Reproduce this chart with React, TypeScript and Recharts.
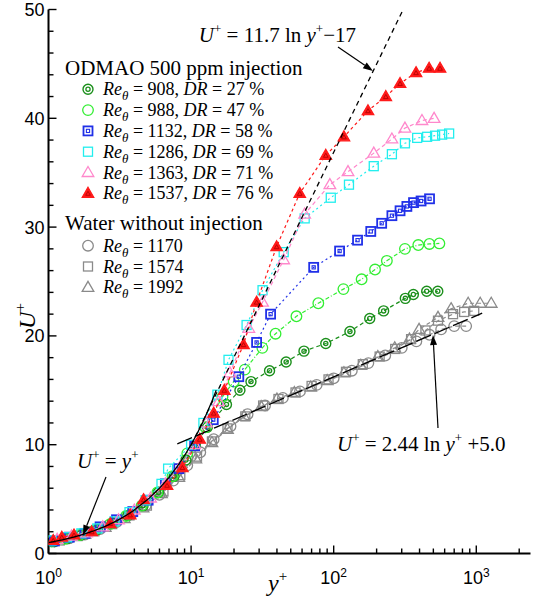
import React from 'react';
import { ComposedChart, Scatter, XAxis, YAxis } from 'recharts';

const W = 533;
const H = 596;
const SERIF = '"Liberation Serif", "Times New Roman", serif';
const SANS = '"Liberation Sans", Arial, sans-serif';

type P = [number, number];

// ODMAO 500 ppm injection  [y+, U+]
const re908: P[] = [[1.1,1.1],[1.35,1.35],[1.7,1.7],[2.2,2.2],[2.8,2.8],[3.6,3.5],[4.6,4.4],[5.9,5.6],[7.6,7.1],[9.2,8.6],[10.7,10.0],[13.0,11.6],[17.7,13.7],[22.0,15.0],[26.3,15.8],[35.5,16.8],[46.4,17.6],[61.9,18.6],[88,19.3],[130,20.4],[179,21.6],[224,22.3],[318,23.45],[362,23.8],[449,24.1],[537,24.1]];
const re988: P[] = [[1.05,1.1],[1.3,1.35],[1.65,1.7],[2.1,2.15],[2.7,2.7],[3.5,3.45],[4.5,4.4],[5.8,5.6],[7.4,7.1],[9.4,9.2],[12.6,11.6],[16.6,14.4],[19.9,15.8],[23.8,16.9],[31.6,18.9],[39.1,20.2],[54.8,21.8],[78,23.0],[117,24.3],[157,25.2],[195,26.1],[236,26.9],[316,28.0],[392,28.35],[469,28.45],[551,28.5]];
const re1132: P[] = [[1.1,1.15],[1.4,1.5],[1.8,1.85],[2.3,2.45],[3.0,3.1],[3.9,3.85],[5.0,4.9],[6.6,6.4],[8.2,7.8],[10.6,9.9],[14.3,12.3],[21.6,16.25],[28.8,19.4],[36.1,22.0],[72.4,26.3],[110,27.8],[147,28.8],[182,29.6],[217,30.35],[256,31.05],[292,31.5],[326,31.9],[363,32.25],[410,32.4],[470,32.6]];
const re1286: P[] = [[1.05,1.2],[1.35,1.5],[1.7,1.85],[2.2,2.3],[2.9,2.95],[3.7,3.8],[4.8,4.9],[6.2,6.4],[6.9,7.8],[10.0,10.0],[12.2,12.0],[15.3,14.6],[18.3,17.8],[24.5,21.0],[31.7,24.2],[44.6,27.7],[62.6,30.8],[95.4,32.7],[128,33.9],[191,35.6],[256,36.7],[316,37.7],[385,38.2],[452,38.3],[514,38.4],[576,38.5],[645,38.6]];
const re1363: P[] = [[1.15,1.3],[1.45,1.6],[1.85,1.9],[2.4,2.45],[3.1,3.1],[4.0,4.0],[5.2,5.1],[6.6,6.4],[8.4,8.0],[10.6,10.0],[12.8,12.0],[15.6,13.95],[18.7,16.6],[25.4,20.7],[31.7,23.1],[44.6,27.0],[62.6,31.2],[94,33.9],[126,35.1],[191,36.8],[256,38.1],[316,39.1],[416,39.8],[506,40.0]];
const re1537: P[] = [[1.08,1.2],[1.24,1.5],[1.51,1.7],[2.01,2.0],[2.71,2.75],[3.74,3.55],[4.64,4.95],[6.78,6.27],[8.69,7.9],[11.5,10.5],[14.4,12.9],[17.1,15.0],[23.3,19.2],[28.8,23.1],[39.8,28.2],[57.8,33.1],[88,36.6],[118,38.3],[174,40.7],[232,42.0],[292,43.2],[378,44.2],[467,44.6],[557,44.6]];

// Water without injection
const w1170: P[] = [[1.1,1.1],[1.4,1.4],[1.8,1.75],[2.3,2.25],[3.0,2.9],[3.8,3.6],[4.8,4.4],[6.0,5.4],[7.5,6.7],[9.4,8.1],[11.6,9.3],[14.4,10.5],[18.9,11.7],[24.9,12.8],[33,13.6],[44,14.3],[58,14.9],[76,15.5],[100,16.1],[134,16.8],[175,17.5],[230,18.2],[300,18.9],[380,19.5],[470,20.1],[567,20.6],[700,20.9],[849,20.9]];
const w1574: P[] = [[1.2,1.2],[1.6,1.6],[2.1,2.05],[2.8,2.7],[3.7,3.5],[4.9,4.4],[6.4,5.7],[8.4,7.2],[11,8.9],[14,10.3],[18,11.5],[24,12.6],[32,13.6],[41,14.2],[54,14.8],[70,15.4],[92,16.0],[122,16.7],[160,17.4],[210,18.1],[270,18.8],[349,19.7],[440,20.5],[539,21.4],[687,22.0],[822,22.2],[967,22.3]];
const w1992: P[] = [[1.3,1.3],[1.8,1.75],[2.5,2.4],[3.4,3.2],[4.6,4.2],[6.2,5.5],[8.2,7.0],[10.8,8.7],[14,10.2],[18,11.4],[23.5,12.6],[31,13.5],[40,14.2],[53,14.8],[69,15.3],[90,15.9],[118,16.6],[155,17.3],[204,18.1],[268,18.9],[340,19.7],[397,20.6],[539,21.7],[666,22.5],[877,23.0],[1065,23.0],[1273,23.0]];

// Reference laws (tabulated)
const viscousLaw: P[] = [[1,1],[1.25,1.25],[1.5,1.5],[1.75,1.75],[2,2],[2.5,2.5],[3,3],[3.5,3.5],[4,4],[5,5],[6,6],[7,7],[8,8],[9,9],[10,10],[11,11],[12,12],[13,13],[14,14],[15,15]];
const logLaw: P[] = [[8,10.07],[1100,22.09]];
const virkLaw: P[] = [[10,9.94],[307,50]];

const xTicks = [1,2,3,4,5,6,7,8,9,10,20,30,40,50,60,70,80,90,100,200,300,400,500,600,700,800,900,1000,2000];
const xMajor = [1,10,100,1000];
const yTicks = [0,2,4,6,8,10,12,14,16,18,20,22,24,26,28,30,32,34,36,38,40,42,44,46,48,50];

const odmaoRe = ['908','988','1132','1286','1363','1537'];
const odmaoDR = ['27','47','58','69','71','76'];
const waterRe = ['1170','1574','1992'];

const C = {
  dkgreen: '#1b8f1b',
  green: '#33ee33',
  blue: '#2030e8',
  cyan: '#22eeee',
  pink: '#ff88cc',
  red: '#ff1a1a',
  gray: '#8a8a8a',
};

const toObj = (a: P[]) => a.map(([x, y]) => ({ x, y }));

type SP = { cx?: number; cy?: number };
const dblCircle = (c: string) => ({ cx = 0, cy = 0 }: SP) => (
  <g>
    <circle cx={cx} cy={cy} r={5} fill="none" stroke={c} strokeWidth={1.4} />
    <circle cx={cx} cy={cy} r={2.1} fill="none" stroke={c} strokeWidth={1.3} />
  </g>
);
const openCircle = (c: string) => ({ cx = 0, cy = 0 }: SP) => (
  <circle cx={cx} cy={cy} r={5.3} fill="none" stroke={c} strokeWidth={1.3} />
);
const boxSquare = (c: string) => ({ cx = 0, cy = 0 }: SP) => (
  <g>
    <rect x={cx - 4.5} y={cy - 4.5} width={9} height={9} fill="none" stroke={c} strokeWidth={1.8} />
    <rect x={cx - 1.6} y={cy - 1.6} width={3.2} height={3.2} fill="none" stroke={c} strokeWidth={1.1} />
  </g>
);
const openSquare = (c: string) => ({ cx = 0, cy = 0 }: SP) => (
  <rect x={cx - 4.5} y={cy - 4.5} width={9} height={9} fill="none" stroke={c} strokeWidth={1.3} />
);
const openTri = (c: string) => ({ cx = 0, cy = 0 }: SP) => (
  <polygon points={`${cx},${cy - 6} ${cx + 5.8},${cy + 4} ${cx - 5.8},${cy + 4}`} fill="none" stroke={c} strokeWidth={1.3} />
);
const redTri = (c: string) => ({ cx = 0, cy = 0 }: SP) => (
  <g>
    <polygon points={`${cx},${cy - 6} ${cx + 5.8},${cy + 4} ${cx - 5.8},${cy + 4}`} fill={c} stroke={c} strokeWidth={1.2} />
    <polygon points={`${cx},${cy - 2} ${cx + 2.3},${cy + 2} ${cx - 2.3},${cy + 2}`} fill="none" stroke="#b00000" strokeWidth={0.8} />
  </g>
);
const noShape = () => <g />;

const odmaoShapes = [dblCircle(C.dkgreen), openCircle(C.green), boxSquare(C.blue), openSquare(C.cyan), openTri(C.pink), redTri(C.red)];
const waterShapes = [openCircle(C.gray), openSquare(C.gray), openTri(C.gray)];

function BottomTick(props: any) {
  const { x, y, payload } = props;
  const v = payload.value;
  const major = xMajor.includes(v);
  return (
    <g>
      <line x1={x} x2={x} y1={y} y2={y - (major ? 8 : 5)} stroke="#000" strokeWidth={1.4} />
      {major && (
        <text x={x} y={y + 30} textAnchor="middle" fontFamily={SANS} fontSize={18} fill="#000">
          10<tspan dy={-7} fontSize={12}>{String(Math.round(Math.log10(v)))}</tspan>
        </text>
      )}
    </g>
  );
}
function TopTick(props: any) {
  const { x, y, payload } = props;
  const major = xMajor.includes(payload.value);
  return <line x1={x} x2={x} y1={y} y2={y + (major ? 8 : 5)} stroke="#000" strokeWidth={1.4} />;
}
function LeftTick(props: any) {
  const { x, y, payload } = props;
  const v = payload.value;
  const major = v % 10 === 0;
  return (
    <g>
      <line x1={x} x2={x + (major ? 8 : 5)} y1={y} y2={y} stroke="#000" strokeWidth={1.4} />
      {major && (
        <text x={x - 4} y={y + 6.5} textAnchor="end" fontFamily={SANS} fontSize={18} fill="#000">{String(v)}</text>
      )}
    </g>
  );
}
function RightTick(props: any) {
  const { x, y, payload } = props;
  const major = payload.value % 10 === 0;
  return <line x1={x} x2={x - (major ? 8 : 5)} y1={y} y2={y} stroke="#000" strokeWidth={1.4} />;
}

function Arrow({ x1, y1, x2, y2 }: { x1: number; y1: number; x2: number; y2: number }) {
  const dx = x2 - x1, dy = y2 - y1;
  const L = Math.sqrt(dx * dx + dy * dy);
  const ux = dx / L, uy = dy / L;
  const hl = 10, hw = 3.5;
  const bx = x2 - ux * hl, by = y2 - uy * hl;
  return (
    <g>
      <line x1={x1} y1={y1} x2={bx} y2={by} stroke="#000" strokeWidth={1.2} />
      <polygon points={`${x2},${y2} ${bx - uy * hw},${by + ux * hw} ${bx + uy * hw},${by - ux * hw}`} fill="#000" />
    </g>
  );
}

export default function App() {
  const series = [
    { d: w1170, shape: waterShapes[0], c: C.gray, dash: '4 3' },
    { d: w1574, shape: waterShapes[1], c: C.gray, dash: '4 3' },
    { d: w1992, shape: waterShapes[2], c: C.gray, dash: '4 3' },
    { d: re908, shape: odmaoShapes[0], c: C.dkgreen, dash: '4 3' },
    { d: re988, shape: odmaoShapes[1], c: C.green, dash: '4 2 1 2' },
    { d: re1132, shape: odmaoShapes[2], c: C.blue, dash: '2 3' },
    { d: re1286, shape: odmaoShapes[3], c: C.cyan, dash: '2 3' },
    { d: re1363, shape: odmaoShapes[4], c: C.pink, dash: '4 3' },
    { d: re1537, shape: odmaoShapes[5], c: C.red, dash: '3 3' },
  ];
  const legendY0 = 89.3;
  const legendStep = 20.8;
  const waterY0 = 245.7;
  return (
    <div style={{ position: 'absolute', left: 0, top: 0, width: W, height: H, background: '#fff' }}>
      <ComposedChart width={W} height={H} margin={{ top: 9.5, right: 2.5, bottom: 0, left: 8.5 }}>
        <XAxis dataKey="x" type="number" scale="log" domain={[1, 2400]} allowDataOverflow ticks={xTicks} interval={0}
          tick={BottomTick} tickLine={false} tickSize={0} tickMargin={0} height={42.5}
          axisLine={{ stroke: '#000', strokeWidth: 2 }} />
        <XAxis xAxisId="top" orientation="top" type="number" scale="log" domain={[1, 2400]} allowDataOverflow ticks={xTicks} interval={0}
          tick={TopTick} tickLine={false} tickSize={0} tickMargin={0} height={0}
          axisLine={{ stroke: '#000', strokeWidth: 2 }} />
        <YAxis dataKey="y" type="number" domain={[0, 50]} allowDataOverflow ticks={yTicks} interval={0}
          tick={LeftTick} tickLine={false} tickSize={0} tickMargin={0} width={40}
          axisLine={{ stroke: '#000', strokeWidth: 2 }} />
        <YAxis yAxisId="right" orientation="right" type="number" domain={[0, 50]} allowDataOverflow ticks={yTicks} interval={0}
          tick={RightTick} tickLine={false} tickSize={0} tickMargin={0} width={0}
          axisLine={{ stroke: '#000', strokeWidth: 2 }} />
        {series.map((s, i) => (
          <Scatter key={i} data={toObj(s.d)} shape={s.shape} isAnimationActive={false}
            line={{ stroke: s.c, strokeWidth: 1.2, strokeDasharray: s.dash }} />
        ))}
        <Scatter data={toObj(viscousLaw)} shape={noShape} isAnimationActive={false}
          line={{ stroke: '#000', strokeWidth: 1.3 }} />
        <Scatter data={toObj(logLaw)} shape={noShape} isAnimationActive={false}
          line={{ stroke: '#000', strokeWidth: 1.3, strokeDasharray: '16 4' }} />
        <Scatter data={toObj(virkLaw)} shape={noShape} isAnimationActive={false}
          line={{ stroke: '#000', strokeWidth: 1.3, strokeDasharray: '5 4' }} />
      </ComposedChart>
      <svg width={W} height={H} style={{ position: 'absolute', left: 0, top: 0, pointerEvents: 'none' }}>
        <text transform="translate(35,316) rotate(-90)" textAnchor="middle" fontFamily={SERIF} fontSize={24} fill="#000">
          <tspan fontStyle="italic">U</tspan><tspan dy={-10} fontSize={15}>+</tspan>
        </text>
        <text x={268} y={591} fontFamily={SERIF} fontSize={24} fill="#000">
          <tspan fontStyle="italic">y</tspan><tspan dy={-10} fontSize={15}>+</tspan>
        </text>

        <text x={65} y={74.5} fontFamily={SERIF} fontSize={21} fill="#000">ODMAO 500 ppm injection</text>
        {odmaoRe.map((re, i) => {
          const cy = legendY0 + i * legendStep;
          const Shape = odmaoShapes[i];
          return (
            <g key={re}>
              <Shape cx={88} cy={cy} />
              <text x={103} y={cy + 6} fontFamily={SERIF} fontSize={18} fill="#000">
                <tspan fontStyle="italic">Re</tspan>
                <tspan dy={5} fontSize={13} fontStyle="italic">θ</tspan>
                <tspan dy={-5}>{` = ${re}, `}</tspan>
                <tspan fontStyle="italic">DR</tspan>
                <tspan>{` = ${odmaoDR[i]} %`}</tspan>
              </text>
            </g>
          );
        })}
        <text x={65} y={230} fontFamily={SERIF} fontSize={21} fill="#000">Water without injection</text>
        {waterRe.map((re, i) => {
          const cy = waterY0 + i * legendStep;
          const Shape = waterShapes[i];
          return (
            <g key={re}>
              <Shape cx={88} cy={cy} />
              <text x={103} y={cy + 6} fontFamily={SERIF} fontSize={18} fill="#000">
                <tspan fontStyle="italic">Re</tspan>
                <tspan dy={5} fontSize={13} fontStyle="italic">θ</tspan>
                <tspan dy={-5}>{` = ${re}`}</tspan>
              </text>
            </g>
          );
        })}

        <text x={356} y={42} textAnchor="end" fontFamily={SERIF} fontSize={21} fill="#000">
          <tspan fontStyle="italic">U</tspan><tspan dy={-9} fontSize={13}>+</tspan>
          <tspan dy={9}>{' = 11.7 ln '}</tspan>
          <tspan fontStyle="italic">y</tspan><tspan dy={-9} fontSize={13}>+</tspan>
          <tspan dy={9}>−17</tspan>
        </text>
        <Arrow x1={338} y1={47} x2={373} y2={71} />

        <text x={337} y={451} fontFamily={SERIF} fontSize={21} fill="#000">
          <tspan fontStyle="italic">U</tspan><tspan dy={-9} fontSize={13}>+</tspan>
          <tspan dy={9}>{' = 2.44 ln '}</tspan>
          <tspan fontStyle="italic">y</tspan><tspan dy={-9} fontSize={13}>+</tspan>
          <tspan dy={9}>{' +5.0'}</tspan>
        </text>
        <Arrow x1={438} y1={428} x2={433} y2={335} />

        <text x={77} y={468} fontFamily={SERIF} fontSize={21} fill="#000">
          <tspan fontStyle="italic">U</tspan><tspan dy={-9} fontSize={13}>+</tspan>
          <tspan dy={9}>{' = '}</tspan>
          <tspan fontStyle="italic">y</tspan><tspan dy={-9} fontSize={13}>+</tspan>
        </text>
        <Arrow x1={106} y1={477} x2={83} y2={535} />
      </svg>
    </div>
  );
}
